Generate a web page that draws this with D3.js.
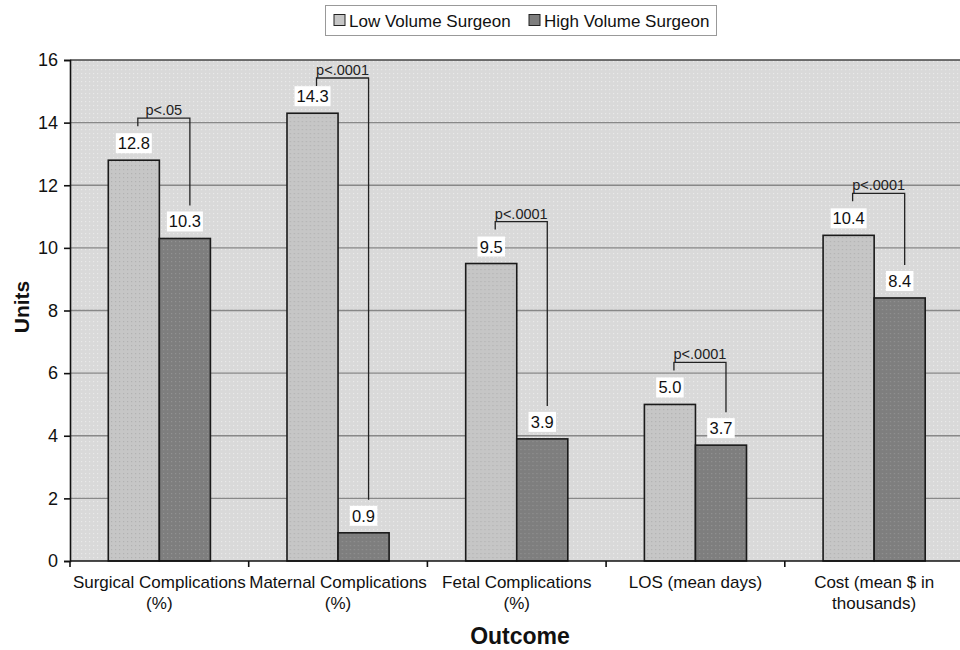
<!DOCTYPE html>
<html>
<head>
<meta charset="utf-8">
<script src="https://cdn.jsdelivr.net/npm/d3@7"></script>
<style>
  body { margin: 0; background: #fff; }
  svg { display: block; font-family: "Liberation Sans", Arial, sans-serif; }
</style>
</head>
<body>
<svg id="chart" width="960" height="650"></svg>
<script>
// data
const outcomes = [
  ['Surgical Complications', '(%)'],
  ['Maternal Complications', '(%)'],
  ['Fetal Complications', '(%)'],
  ['LOS (mean days)'],
  ['Cost (mean $ in', 'thousands)']
];
const lowVolume = [12.8, 14.3, 9.5, 5.0, 10.4];
const highVolume = [10.3, 0.9, 3.9, 3.7, 8.4];
const pValues = ['p<.05', 'p<.0001', 'p<.0001', 'p<.0001', 'p<.0001'];
const seriesNames = ['Low Volume Surgeon', 'High Volume Surgeon'];
const yTicks = [0, 2, 4, 6, 8, 10, 12, 14, 16];

const svg = d3.select('#chart');

const plotLeft = 70, plotTop = 60, plotBottom = 561;
const bandWidth = 178.7;
const plotRight = plotLeft + bandWidth * outcomes.length;

const lowColor = '#c6c6c6';
const highColor = '#7e7e7e';
const bgColor = '#d9d9d9';

// dotted textures like the original print
const defs = svg.append('defs');
function dotPattern(id, base, dot) {
  const p = defs.append('pattern')
    .attr('id', id)
    .attr('patternUnits', 'userSpaceOnUse')
    .attr('width', 4).attr('height', 4);
  p.append('rect').attr('width', 4).attr('height', 4).attr('fill', base);
  p.append('rect').attr('x', 1).attr('y', 1).attr('width', 1.2).attr('height', 1.2).attr('fill', dot);
}
dotPattern('bgDots', bgColor, '#e9e9e9');
dotPattern('lowDots', lowColor, '#b2b2b2');
dotPattern('highDots', highColor, '#929292');

const x0 = d3.scaleBand()
  .domain(d3.range(outcomes.length))
  .range([plotLeft, plotRight])
  .paddingInner(0).paddingOuter(0);

const x1 = d3.scaleBand()
  .domain([0, 1])
  .range([0, x0.bandwidth()])
  .paddingInner(0)
  .paddingOuter(0.75);

const y = d3.scaleLinear().domain([0, 16]).range([plotBottom, plotTop]);

// plot background
svg.append('rect')
  .attr('x', plotLeft).attr('y', plotTop)
  .attr('width', plotRight - plotLeft).attr('height', plotBottom - plotTop)
  .attr('fill', 'url(#bgDots)');

// gridlines
svg.append('g')
  .selectAll('line')
  .data(yTicks.slice(1))
  .join('line')
  .attr('x1', plotLeft).attr('x2', plotRight)
  .attr('y1', d => y(d)).attr('y2', d => y(d))
  .attr('stroke', d => d === 16 ? '#444' : '#888')
  .attr('stroke-width', 1.4);

// bars
const groups = svg.append('g')
  .selectAll('g')
  .data(outcomes.map((o, i) => i))
  .join('g')
  .attr('transform', i => `translate(${x0(i)},0)`);

groups.selectAll('rect')
  .data(i => [
    { s: 0, v: lowVolume[i] },
    { s: 1, v: highVolume[i] }
  ])
  .join('rect')
  .attr('x', d => x1(d.s))
  .attr('y', d => y(d.v))
  .attr('width', x1.bandwidth())
  .attr('height', d => y(0) - y(d.v))
  .attr('fill', d => d.s === 0 ? 'url(#lowDots)' : 'url(#highDots)')
  .attr('stroke', '#1a1a1a')
  .attr('stroke-width', 1.6);

// value labels in white boxes
groups.each(function (i) {
  const g = d3.select(this);
  [lowVolume[i], highVolume[i]].forEach((v, s) => {
    const cx = x1(s) + x1.bandwidth() / 2;
    const cy = y(v) - 17;
    const txt = v.toFixed(1);
    const w = txt.length * 8.5 + 2;
    g.append('rect')
      .attr('x', cx - w / 2).attr('y', cy - 10)
      .attr('width', w).attr('height', 20)
      .attr('fill', '#fff');
    g.append('text')
      .attr('x', cx).attr('y', cy + 6)
      .attr('text-anchor', 'middle')
      .attr('font-size', 16.5)
      .attr('fill', '#111')
      .text(txt);
  });

  // significance bracket
  const lx = x1(0) + x1.bandwidth() / 2 + 4;
  const rx = x1(1) + x1.bandwidth() / 2 + 5;
  const by = Math.max(y(lowVolume[i]) - 42, y(16) + 18);
  const leftEnd = by + 8;
  const rightEnd = y(highVolume[i]) - 33;
  g.append('path')
    .attr('d', `M${lx},${leftEnd}V${by}H${rx}V${rightEnd}`)
    .attr('fill', 'none')
    .attr('stroke', '#222')
    .attr('stroke-width', 1.3);
  g.append('text')
    .attr('x', (lx + rx) / 2).attr('y', by - 3)
    .attr('text-anchor', 'middle')
    .attr('font-size', 14.5)
    .attr('fill', '#222')
    .text(pValues[i]);
});

// y axis
const yAxis = svg.append('g')
  .attr('transform', `translate(${plotLeft},0)`)
  .call(d3.axisLeft(y).tickValues(yTicks).tickSize(6).tickPadding(6));
yAxis.select('.domain').attr('stroke', '#111').attr('stroke-width', 1.6);
yAxis.selectAll('.tick line').attr('stroke', '#111').attr('stroke-width', 1.6);
yAxis.selectAll('.tick text')
  .attr('font-size', 18)
  .attr('fill', '#111')
  .attr('font-family', '"Liberation Sans", Arial, sans-serif');

// x axis line and ticks at band edges
svg.append('line')
  .attr('x1', plotLeft).attr('x2', plotRight)
  .attr('y1', plotBottom).attr('y2', plotBottom)
  .attr('stroke', '#111').attr('stroke-width', 1.6);
svg.append('g')
  .selectAll('line')
  .data(d3.range(outcomes.length + 1))
  .join('line')
  .attr('x1', i => plotLeft + i * x0.step())
  .attr('x2', i => plotLeft + i * x0.step())
  .attr('y1', plotBottom).attr('y2', plotBottom + 6)
  .attr('stroke', '#111').attr('stroke-width', 1.6);

// category labels
svg.append('g')
  .selectAll('text')
  .data(outcomes)
  .join('text')
  .attr('x', (d, i) => x0(i) + x0.bandwidth() / 2)
  .attr('y', 588)
  .attr('text-anchor', 'middle')
  .attr('font-size', 17)
  .attr('fill', '#111')
  .each(function (lines) {
    const t = d3.select(this);
    lines.forEach((ln, k) => {
      t.append('tspan')
        .attr('x', t.attr('x'))
        .attr('dy', k === 0 ? 0 : 21)
        .text(ln);
    });
  });

// axis titles
svg.append('text')
  .attr('transform', 'translate(29,307) rotate(-90)')
  .attr('text-anchor', 'middle')
  .attr('font-size', 21)
  .attr('font-weight', 'bold')
  .attr('fill', '#111')
  .text('Units');

svg.append('text')
  .attr('x', 520).attr('y', 644)
  .attr('text-anchor', 'middle')
  .attr('font-size', 23)
  .attr('font-weight', 'bold')
  .attr('fill', '#111')
  .text('Outcome');

// legend
const legend = svg.append('g');
legend.append('rect')
  .attr('x', 325.5).attr('y', 5.5)
  .attr('width', 391).attr('height', 30)
  .attr('fill', '#fff')
  .attr('stroke', '#999');
const legendX = [334, 529];
seriesNames.forEach((name, s) => {
  legend.append('rect')
    .attr('x', legendX[s]).attr('y', 14.5)
    .attr('width', 11).attr('height', 11)
    .attr('fill', s === 0 ? lowColor : highColor)
    .attr('stroke', '#222').attr('stroke-width', 1);
  legend.append('text')
    .attr('x', legendX[s] + 15).attr('y', 26.5)
    .attr('font-size', 17)
    .attr('fill', '#111')
    .text(name);
});
</script>
</body>
</html>
